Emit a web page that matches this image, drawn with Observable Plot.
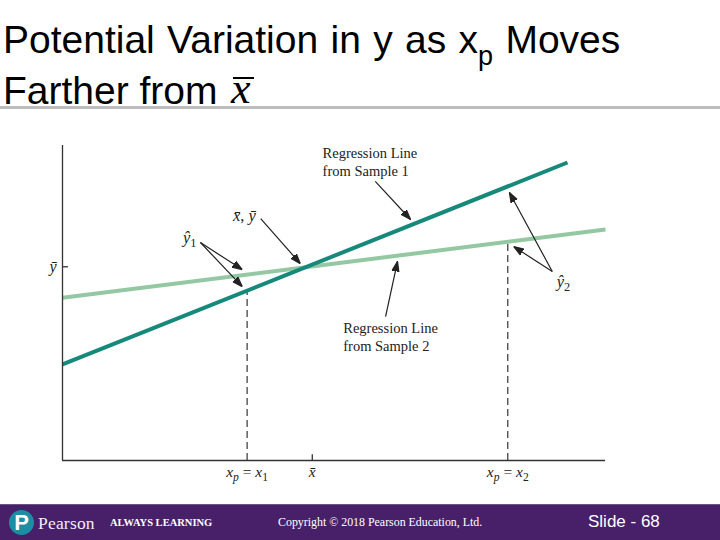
<!DOCTYPE html>
<html><head><meta charset="utf-8">
<script src="https://cdn.jsdelivr.net/npm/d3@7"></script>
<script src="https://cdn.jsdelivr.net/npm/@observablehq/plot@0.6"></script>
<style>
html,body{margin:0;padding:0;background:#fff;}
#page{position:relative;width:720px;height:540px;overflow:hidden;font-family:"Liberation Sans",Arial,sans-serif;}
.tl{position:absolute;left:3px;font-size:39px;line-height:39px;color:#000;white-space:nowrap;}
.sub{font-size:27px;position:relative;top:12px;}
#xbar{position:absolute;left:231px;top:67px;font-family:"Liberation Serif",serif;font-style:italic;font-size:44px;line-height:44px;}
#xbarbar{position:absolute;left:233px;top:77px;width:21px;height:2px;background:#000;}
#rule{position:absolute;left:0;top:106px;width:720px;height:3px;background:#bdbdbd;}
#chart{position:absolute;left:0;top:110px;}
#footer{position:absolute;left:0;top:504px;width:720px;height:36px;background:#48206a;border-top:1px solid #6d5480;color:#fff;}
#logo{position:absolute;left:9px;top:5px;width:25px;height:25px;border-radius:50%;background:#1b8ea3;color:#fff;font-family:"Liberation Sans",sans-serif;font-weight:bold;font-size:22px;line-height:25px;text-align:center;}
#pearson{position:absolute;left:38px;top:7px;font-family:"Liberation Serif",serif;font-size:17.5px;line-height:22px;letter-spacing:0.2px;color:#f2eef5;}
#always{position:absolute;left:110px;top:11px;font-family:"Liberation Serif",serif;font-weight:bold;font-size:10.5px;line-height:14px;}
#copy{position:absolute;left:278px;top:10px;font-family:"Liberation Serif",serif;font-size:11.9px;line-height:15px;}
#slide{position:absolute;left:588px;top:6px;font-family:"Liberation Sans",sans-serif;font-size:17px;line-height:22px;}
</style></head>
<body><div id="page">
<div class="tl" style="top:20px;word-spacing:1.5px">Potential Variation in y as x<span class="sub">p</span> Moves</div>
<div class="tl" style="top:71px">Farther from</div>
<div id="xbar">x</div><div id="xbarbar"></div>
<div id="rule"></div>
<div id="chart"></div>
<div id="footer">
  <div id="logo">P</div>
  <div id="pearson">Pearson</div>
  <div id="always">ALWAYS LEARNING</div>
  <div id="copy">Copyright © 2018 Pearson Education, Ltd.</div>
  <div id="slide">Slide - 68</div>
</div>
</div>
<script>
// ---- data (in abstract units 0..100 on both axes) ----
const sample1X = [0, 93];
const sample1Y = [30.5, 94.6];
const sample2X = [0, 100];
const sample2Y = [51.7, 73.3];
const xBarValue = 46;
const yBarValue = 61.5;
const xpValues = [34, 82];
const xpLineTops = [53.9, 69.4];
const xTickValues = [34, 46, 82];
const xTickLabels = ["$x_p = x_1", "$x\u0304", "$x_p = x_2"];
const yTickValues = [61.5];
const yTickLabels = ["$\u0233"];
const annotTexts = ["Regression Line\nfrom Sample 1", "Regression Line\nfrom Sample 2", "$x\u0304, \u0233", "$\u0177_1", "$\u0177_2"];
const annotX = [47.9, 51.7, 31.4, 22.2, 91.0];
const annotY = [94.9, 39.4, 77.8, 70.6, 56.8];
const arrowX1 = [57.6, 36.5, 25.4, 25.4, 59.5, 90.2, 90.2];
const arrowY1 = [88.6, 76.8, 69.2, 69.2, 45.7, 60.0, 60.0];
const arrowX2 = [64.1, 43.8, 33.1, 33.1, 61.7, 82.3, 83.1];
const arrowY2 = [76.5, 62.5, 60.6, 55.2, 63.2, 85.1, 67.9];

const ns = "http://www.w3.org/2000/svg";
const line1 = sample1X.map((x, i) => ({x, y: sample1Y[i]}));
const line2 = sample2X.map((x, i) => ({x, y: sample2Y[i]}));
const dashes = xpValues.map((x, i) => ({x, top: xpLineTops[i]}));
const annots = annotTexts.map((t, i) => ({t, x: annotX[i], y: annotY[i]}));
const textAnnots = annots.filter(d => !d.t.startsWith("$"));
const mathAnnots = annots.filter(d => d.t.startsWith("$"));
const arrows = arrowX1.map((x1, i) => ({x1, y1: arrowY1[i], x2: arrowX2[i], y2: arrowY2[i]}));
const xLab = new Map(xTickValues.map((v, i) => [v, xTickLabels[i]]));
const yLab = new Map(yTickValues.map((v, i) => [v, yTickLabels[i]]));

function filledArrow(color, context) {
  const doc = (context && context.document) || document;
  const m = doc.createElementNS(ns, "marker");
  m.setAttribute("viewBox", "-10 -5 10 10");
  m.setAttribute("markerWidth", 10);
  m.setAttribute("markerHeight", 10);
  m.setAttribute("markerUnits", "userSpaceOnUse");
  m.setAttribute("orient", "auto");
  m.setAttribute("refX", 0);
  m.setAttribute("refY", 0);
  const p = doc.createElementNS(ns, "path");
  p.setAttribute("d", "M-10,-3.5L0,0L-10,3.5Z");
  p.setAttribute("fill", color);
  m.appendChild(p);
  return m;
}

const serif = "Liberation Serif, Times New Roman, serif";
const chart = Plot.plot({
  width: 720, height: 395,
  marginLeft: 62, marginRight: 115, marginTop: 35, marginBottom: 45,
  x: {domain: [0, 100], axis: null},
  y: {domain: [0, 100], axis: null},
  style: {background: "transparent"},
  marks: [
    Plot.ruleX(dashes, {x: "x", y1: 0, y2: "top", stroke: "#444", strokeWidth: 1.3, strokeDasharray: "7,4"}),
    Plot.line(line2, {x: "x", y: "y", stroke: "#93c8a3", strokeWidth: 4, strokeLinecap: "butt"}),
    Plot.line(line1, {x: "x", y: "y", stroke: "#17897b", strokeWidth: 4, strokeLinecap: "butt"}),
    Plot.ruleX([0], {stroke: "#333", strokeWidth: 1.3}),
    Plot.ruleY([0], {stroke: "#333", strokeWidth: 1.3}),
    Plot.ruleX([xBarValue], {y1: 0, y2: 1.8, stroke: "#333", strokeWidth: 1.3}),
    Plot.ruleY([yBarValue], {x1: 0, x2: 1.1, stroke: "#333", strokeWidth: 1.3}),
    Plot.axisX(xTickValues, {anchor: "bottom", tickSize: 0, tickPadding: 5, tickFormat: d => xLab.get(d), fontSize: 15.5, fontFamily: serif, fill: "#222"}),
    Plot.axisY(yTickValues, {anchor: "left", tickSize: 0, tickPadding: 6, tickFormat: d => yLab.get(d), fontSize: 16, fontFamily: serif, fill: "#222"}),
    Plot.link(arrows, {x1: "x1", y1: "y1", x2: "x2", y2: "y2", stroke: "#222", strokeWidth: 1.2, markerEnd: filledArrow}),
    Plot.text(textAnnots, {x: "x", y: "y", text: "t", textAnchor: "start", lineAnchor: "middle", fontSize: 14.5, lineHeight: 1.25, fontFamily: serif, fill: "#222"}),
    Plot.text(mathAnnots, {x: "x", y: "y", text: "t", textAnchor: "start", lineAnchor: "middle", fontSize: 16.5, fontFamily: serif, fill: "#222"})
  ]
});

// render "$"-prefixed labels as math: letters italic, "_c" subscripts
function mathify(svg) {
  for (const t of svg.querySelectorAll("text")) {
    if (t.querySelector("tspan")) continue;
    const s = t.textContent;
    if (!s.startsWith("$")) continue;
    const chars = Array.from(s.slice(1));
    t.textContent = "";
    let shift = 0, i = 0;
    while (i < chars.length) {
      let c = chars[i], isSub = false;
      if (c === "_") { isSub = true; i++; c = chars[i]; }
      let g = c; i++;
      while (i < chars.length && /[\u0300-\u036f]/.test(chars[i])) { g += chars[i]; i++; }
      const ts = document.createElementNS(ns, "tspan");
      ts.textContent = g;
      if (/\p{L}/u.test(c)) ts.setAttribute("font-style", "italic");
      const want = isSub ? 4 : 0;
      if (want !== shift) { ts.setAttribute("dy", want - shift); shift = want; }
      if (isSub) ts.style.fontSize = "75%";
      t.appendChild(ts);
    }
  }
}
mathify(chart);
document.getElementById("chart").appendChild(chart);
</script>
</body></html>
